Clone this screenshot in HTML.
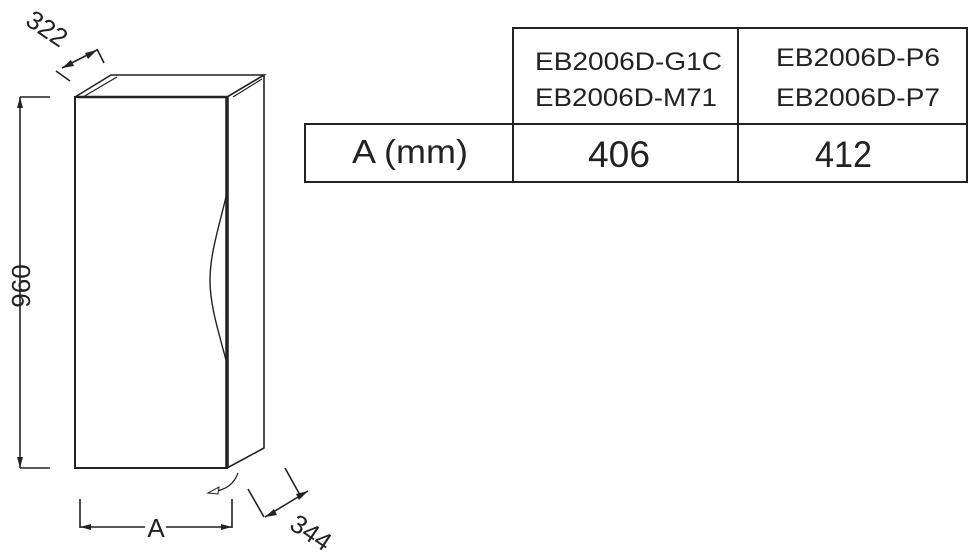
<!DOCTYPE html>
<html><head><style>
body{margin:0;background:#fff}
svg{display:block}
text{font-family:"Liberation Sans",sans-serif;fill:#222}
</style></head><body>
<svg width="970" height="557" viewBox="0 0 970 557" xmlns="http://www.w3.org/2000/svg">
<g stroke="#222" fill="none" stroke-width="1.6">
<rect x="75" y="97" width="152" height="371" stroke-width="2"/>
<line x1="227" y1="97" x2="227" y2="468" stroke-width="3.5"/>
<polyline points="75,97 111,75 264,75 227,97" stroke-width="1.6"/>
<line x1="83" y1="97" x2="117" y2="77" stroke-width="1.2"/>
<line x1="233" y1="97" x2="262" y2="79" stroke-width="1.2"/>
<line x1="77" y1="97" x2="227" y2="97" stroke-width="2.5"/>
<polyline points="264,75 264,448 227,468"/>
<path d="M226,197 C218,230 210,255 210,280 C210,305 218,330 226,360" stroke-width="1.4"/>
<line x1="20" y1="97" x2="20" y2="468"/>
<line x1="20" y1="97" x2="50" y2="97"/>
<line x1="20" y1="468" x2="50" y2="468"/>
<line x1="56" y1="71" x2="70" y2="81"/>
<line x1="97" y1="49" x2="104" y2="63"/>
<line x1="62" y1="68" x2="97" y2="50"/>
<line x1="248" y1="489" x2="264" y2="517"/>
<line x1="285" y1="468" x2="300" y2="495"/>
<line x1="265" y1="517" x2="308" y2="491"/>
<line x1="80" y1="499" x2="80" y2="528"/>
<line x1="232" y1="499" x2="232" y2="528"/>
<line x1="80" y1="527" x2="145" y2="527"/>
<line x1="166" y1="527" x2="232" y2="527"/>
<path d="M238,473 C234,484 226,490 212,492" stroke-width="1.2"/>
<rect x="513" y="28" width="454" height="154" stroke-width="2"/>
<rect x="305" y="124" width="662" height="58" stroke-width="2"/>
<line x1="738" y1="28" x2="738" y2="182" stroke-width="2"/>
</g>
<g fill="#222">
<polygon points="20,97 17,108 23,108"/>
<polygon points="20,468 17,457 23,457"/>
<polygon points="80,527 91,524 91,530"/>
<polygon points="232,527 221,524 221,530"/>
<polygon points="62,68 71,60 74,66"/>
<polygon points="97,50 85,53 88,59"/>
<polygon points="265,517 274,509 277,515"/>
<polygon points="308,491 296,494 299,500"/>
<polygon points="208,493 219,487 218,494" fill="#fff" stroke="#222" stroke-width="1"/>
</g>
<text x="0" y="0" font-size="26" text-anchor="middle" transform="translate(30,286) rotate(-90)">960</text>
<text x="0" y="0" font-size="26" text-anchor="middle" transform="translate(42,36) rotate(34)">322</text>
<text x="0" y="0" font-size="26" text-anchor="middle" transform="translate(306,540) rotate(34)">344</text>
<text x="156" y="537" font-size="26" text-anchor="middle">A</text>
<text x="535" y="70" font-size="25" textLength="187" lengthAdjust="spacingAndGlyphs">EB2006D-G1C</text>
<text x="535" y="106" font-size="25" textLength="182" lengthAdjust="spacingAndGlyphs">EB2006D-M71</text>
<text x="776" y="66" font-size="25" textLength="164" lengthAdjust="spacingAndGlyphs">EB2006D-P6</text>
<text x="776" y="106" font-size="25" textLength="164" lengthAdjust="spacingAndGlyphs">EB2006D-P7</text>
<text x="352" y="163" font-size="33" textLength="116" lengthAdjust="spacingAndGlyphs">A (mm)</text>
<text x="588" y="167" font-size="37" textLength="62" lengthAdjust="spacingAndGlyphs">406</text>
<text x="815" y="167" font-size="37" textLength="57" lengthAdjust="spacingAndGlyphs">412</text>
</svg>
</body></html>
